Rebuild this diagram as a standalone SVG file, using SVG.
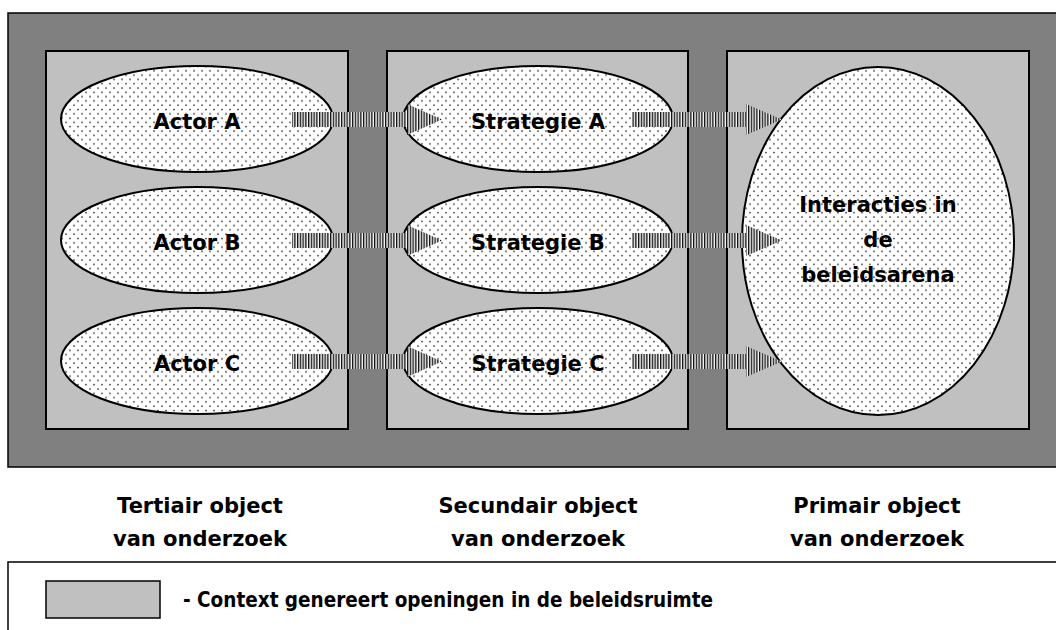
<svg xmlns="http://www.w3.org/2000/svg" width="1056" height="630" viewBox="0 0 1056 630">
  <defs>
    <!-- fine dot screen used inside the ellipses -->
    <pattern id="dots" patternUnits="userSpaceOnUse" width="8" height="8.6">
      <rect width="8" height="8.6" fill="#ffffff"/>
      <circle cx="2" cy="2" r="0.85" fill="#222"/>
      <circle cx="6" cy="6.3" r="0.85" fill="#222"/>
    </pattern>
    <!-- vertical hatching used for the block arrows -->
    <pattern id="stripes" patternUnits="userSpaceOnUse" width="2.75" height="10">
      <rect width="2.75" height="10" fill="#ffffff"/>
      <rect x="0" width="1.3" height="10" fill="#111"/>
      <rect x="1.3" width="0.6" height="10" fill="#888"/>
    </pattern>
    <style>
      .frame { fill: #808080; stroke: #000; stroke-width: 1.5; }
      .panel { fill: #c0c0c0; stroke: #000; stroke-width: 2; }
      .bubble { fill: url(#dots); stroke: #000; stroke-width: 2; }
      .arrow { fill: url(#stripes); stroke: none; }
      .lbl { font-family: "DejaVu Sans", Verdana, sans-serif; font-weight: bold; font-size: 21px; fill: #000; text-anchor: middle; }
      .note { font-family: "DejaVu Sans Condensed", "DejaVu Sans", sans-serif; font-stretch: condensed; font-weight: bold; font-size: 20.5px; fill: #000; }
      .legend { fill: #fff; stroke: #000; stroke-width: 1.5; }
      .swatch { fill: #c0c0c0; stroke: #000; stroke-width: 1.5; }
    </style>
  </defs>

  <!-- surrounding context -->
  <rect class="frame" x="8" y="13" width="1060" height="454"/>

  <g id="panel-tertiair"><rect class="panel" x="46" y="51" width="302" height="378"/></g>
  <g id="panel-secundair"><rect class="panel" x="387" y="51" width="301" height="378"/></g>
  <g id="panel-primair"><rect class="panel" x="727" y="51" width="302" height="378"/></g>

  <g id="actor-a"><ellipse class="bubble" cx="197" cy="119" rx="136" ry="53"/></g>
  <g id="actor-b"><ellipse class="bubble" cx="197" cy="240" rx="136" ry="53"/></g>
  <g id="actor-c"><ellipse class="bubble" cx="197" cy="361" rx="136" ry="53"/></g>
  <g id="strategie-a"><ellipse class="bubble" cx="538" cy="119" rx="135" ry="53"/></g>
  <g id="strategie-b"><ellipse class="bubble" cx="538" cy="240" rx="135" ry="53"/></g>
  <g id="strategie-c"><ellipse class="bubble" cx="538" cy="361" rx="135" ry="53"/></g>
  <g id="interacties"><ellipse class="bubble" cx="878" cy="241" rx="136" ry="174"/></g>

  <!-- block arrows -->
  <g id="connectors">
    <polygon class="arrow" points="292,112 407,112 407,104 442,119.5 407,135 407,127 292,127"/>
    <polygon class="arrow" points="292,233 407,233 407,225 442,240.5 407,256 407,248 292,248"/>
    <polygon class="arrow" points="292,354 407,354 407,346 442,361.5 407,377 407,369 292,369"/>
    <polygon class="arrow" points="632,112 746,112 746,104 782,119.5 746,135 746,127 632,127"/>
    <polygon class="arrow" points="632,233 746,233 746,225 782,240.5 746,256 746,248 632,248"/>
    <polygon class="arrow" points="632,354 746,354 746,346 782,361.5 746,377 746,369 632,369"/>
  </g>

  <!-- node labels -->
  <text class="lbl" x="197" y="129">Actor A</text>
  <text class="lbl" x="197" y="250">Actor B</text>
  <text class="lbl" x="197" y="371">Actor C</text>
  <text class="lbl" x="538" y="129">Strategie A</text>
  <text class="lbl" x="538" y="250">Strategie B</text>
  <text class="lbl" x="538" y="371">Strategie C</text>
  <text class="lbl" x="878" y="212">Interacties in</text>
  <text class="lbl" x="878" y="247">de</text>
  <text class="lbl" x="878" y="282">beleidsarena</text>

  <!-- column captions -->
  <text class="lbl" x="200" y="513">Tertiair object</text>
  <text class="lbl" x="200" y="546">van onderzoek</text>
  <text class="lbl" x="538" y="513">Secundair object</text>
  <text class="lbl" x="538" y="546">van onderzoek</text>
  <text class="lbl" x="877" y="513">Primair object</text>
  <text class="lbl" x="877" y="546">van onderzoek</text>

  <!-- legend -->
  <g id="legend">
    <rect class="legend" x="8" y="562" width="1060" height="80"/>
    <rect class="swatch" x="46" y="581" width="114" height="37"/>
    <text class="note" x="183" y="607">- Context genereert openingen in de beleidsruimte</text>
  </g>
</svg>
